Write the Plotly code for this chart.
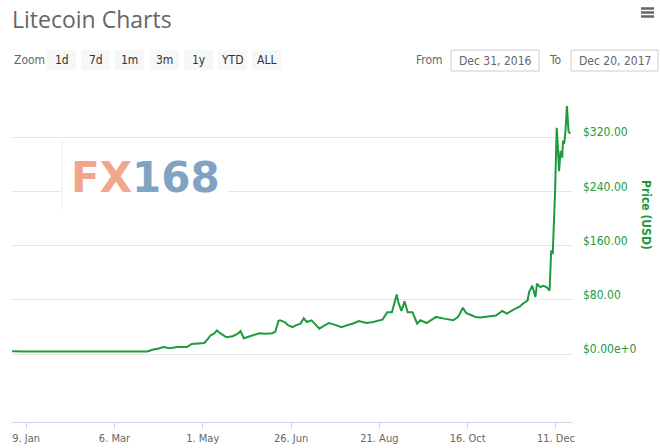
import plotly.graph_objects as go

# ---------------- data ----------------
dates = [
    "2016-12-31", "2017-01-03", "2017-01-07", "2017-01-15", "2017-01-25", "2017-02-05",
    "2017-02-15", "2017-02-25", "2017-03-08", "2017-03-18", "2017-03-27", "2017-03-30",
    "2017-04-01", "2017-04-03", "2017-04-06", "2017-04-10", "2017-04-15", "2017-04-21",
    "2017-04-24", "2017-04-28", "2017-05-02", "2017-05-04", "2017-05-06", "2017-05-08",
    "2017-05-10", "2017-05-12", "2017-05-14", "2017-05-16", "2017-05-20", "2017-05-23",
    "2017-05-25", "2017-05-27", "2017-05-31", "2017-06-03", "2017-06-06", "2017-06-10",
    "2017-06-14", "2017-06-16", "2017-06-18", "2017-06-19", "2017-06-22", "2017-06-24",
    "2017-06-27", "2017-06-29", "2017-07-02", "2017-07-04", "2017-07-06", "2017-07-09",
    "2017-07-11", "2017-07-14", "2017-07-17", "2017-07-20", "2017-07-23", "2017-07-25",
    "2017-07-28", "2017-08-01", "2017-08-04", "2017-08-08", "2017-08-13", "2017-08-17",
    "2017-08-22", "2017-08-23", "2017-08-26", "2017-08-29", "2017-09-01", "2017-09-02",
    "2017-09-04", "2017-09-06", "2017-09-08", "2017-09-11", "2017-09-14", "2017-09-16",
    "2017-09-20", "2017-09-23", "2017-09-26", "2017-10-01", "2017-10-04", "2017-10-07",
    "2017-10-10", "2017-10-13", "2017-10-15", "2017-10-18", "2017-10-21", "2017-10-24",
    "2017-10-28", "2017-11-03", "2017-11-07", "2017-11-10", "2017-11-15", "2017-11-18",
    "2017-11-20", "2017-11-23", "2017-11-24", "2017-11-26", "2017-11-28", "2017-11-29",
    "2017-12-01", "2017-12-03", "2017-12-05", "2017-12-07", "2017-12-08", "2017-12-09",
    "2017-12-10 12:00", "2017-12-11 12:00", "2017-12-12 06:00", "2017-12-13", "2017-12-14",
    "2017-12-15", "2017-12-15 12:00", "2017-12-16 06:00", "2017-12-17", "2017-12-18",
    "2017-12-19", "2017-12-20",
]
prices = [
    4.33, 4.6, 4.0, 3.9, 3.9, 4.0,
    3.85, 3.8, 3.9, 4.0, 4.1, 6.5,
    7.2, 8.5, 10.7, 8.8, 10.7, 10.5,
    15, 15.5, 16.6, 22, 28, 30,
    35, 31, 28, 25, 26.5, 30,
    34, 23.5, 26.5, 29, 31, 30,
    31, 33, 49, 50, 47.5, 43,
    40, 42.6, 45, 53, 47.5, 50,
    45, 37.7, 42, 46, 44, 42.6,
    40, 43, 45, 49, 46, 47.5,
    50, 51, 62, 62, 88, 77,
    64, 78, 62, 62, 45, 50,
    46, 50, 55, 52.5, 51, 50,
    55, 68.6, 60.7, 58, 55, 54,
    55, 57, 63.7, 60, 67, 70,
    74.5, 79, 91.6, 101, 84, 104,
    99, 101, 99, 94, 153, 148,
    241, 334, 305, 270, 300,
    290, 315, 310, 327, 366,
    329, 325,
]

x_tick_dates = ["2017-01-09", "2017-03-06", "2017-05-01", "2017-06-26",
                "2017-08-21", "2017-10-16", "2017-12-11"]
x_tick_labels = ["9. Jan", "6. Mar", "1. May", "26. Jun", "21. Aug", "16. Oct", "11. Dec"]
y_tick_values = [0, 80, 160, 240, 320, 400]
y_tick_labels = ["$0.00e+0", "$80.00", "$160.00", "$240.00", "$320.00", ""]
zoom_buttons = ["1d", "7d", "1m", "3m", "1y", "YTD", "ALL"]
range_from = "Dec 31, 2016"
range_to = "Dec 20, 2017"

# ---------------- layout helpers ----------------
W, H = 660, 448
ML, MR, MT, MB = 12, 88, 83, 26
PW, PH = W - ML - MR, H - MT - MB


def px(x):
    return (x - ML) / PW


def py(y):
    return 1 - (y - MT) / PH


GREEN = "#1e9a3c"
GREY = "#666666"
FONT = "Liberation Sans Narrow, Arial Narrow, DejaVu Sans Condensed, sans-serif"

fig = go.Figure()
fig.add_trace(go.Scatter(
    x=dates, y=prices, mode="lines",
    line=dict(color=GREEN, width=2),
    hoverinfo="x+y", showlegend=False,
))

shapes = []
annotations = []

# title
annotations.append(dict(text="Litecoin Charts", x=px(10), y=py(1), xref="paper", yref="paper",
                        xanchor="left", yanchor="top", showarrow=False,
                        font=dict(family="Open Sans, sans-serif", size=23, color="#666666")))
# hamburger
for yy in (8.5, 12.5, 16.5):
    shapes.append(dict(type="line", xref="paper", yref="paper",
                       x0=px(641), x1=px(654), y0=py(yy), y1=py(yy),
                       line=dict(color="#666666", width=2.5)))

# zoom label & buttons
annotations.append(dict(text="Zoom", x=px(12), y=py(60), xref="paper", yref="paper",
                        xanchor="left", yanchor="middle", showarrow=False,
                        font=dict(family=FONT, size=12, color=GREY)))
btn_x0 = [47, 81, 115, 150, 184, 218, 252]
for label, bx in zip(zoom_buttons, btn_x0):
    shapes.append(dict(type="rect", xref="paper", yref="paper",
                       x0=px(bx), x1=px(bx + 29), y0=py(50), y1=py(70),
                       fillcolor="#f7f7f7", line=dict(width=0)))
    annotations.append(dict(text=label, x=px(bx + 14.5), y=py(60), xref="paper", yref="paper",
                            xanchor="center", yanchor="middle", showarrow=False,
                            font=dict(family=FONT, size=12, color="#333333")))

# from / to boxes
annotations.append(dict(text="From", x=px(445), y=py(60), xref="paper", yref="paper",
                        xanchor="right", yanchor="middle", showarrow=False,
                        font=dict(family=FONT, size=12, color=GREY)))
annotations.append(dict(text="To", x=px(564), y=py(60), xref="paper", yref="paper",
                        xanchor="right", yanchor="middle", showarrow=False,
                        font=dict(family=FONT, size=12, color=GREY)))
for (bx0, bx1, txt) in ((451, 539, range_from), (571, 658, range_to)):
    shapes.append(dict(type="rect", xref="paper", yref="paper",
                       x0=px(bx0), x1=px(bx1), y0=py(50), y1=py(71),
                       fillcolor="white", line=dict(color="#cccccc", width=1)))
    annotations.append(dict(text=txt, x=px((bx0 + bx1) / 2), y=py(60.5), xref="paper", yref="paper",
                            xanchor="center", yanchor="middle", showarrow=False,
                            font=dict(family=FONT, size=12, color=GREY)))

# watermark
shapes.append(dict(type="rect", xref="paper", yref="paper", layer="above",
                   x0=px(62), x1=px(228), y0=py(140), y1=py(211),
                   fillcolor="white", line=dict(width=0)))
shapes.append(dict(type="line", xref="paper", yref="paper", layer="above",
                   x0=px(62), x1=px(62), y0=py(140), y1=py(211),
                   line=dict(color="#eeeeee", width=1)))
annotations.append(dict(
    text="<b><span style='color:#f2a68b'>FX</span><span style='color:#80a3c3'>168</span></b>",
    x=px(145), y=py(177), xref="paper", yref="paper", xanchor="center", yanchor="middle",
    showarrow=False, font=dict(family="DejaVu Sans, sans-serif", size=42)))

# y-axis title
annotations.append(dict(text="<b>Price (USD)</b>", x=px(646), y=py(215), xref="paper", yref="paper",
                        xanchor="center", yanchor="middle", showarrow=False, textangle=90,
                        font=dict(family=FONT, size=12, color=GREEN)))

fig.update_layout(
    width=W, height=H,
    margin=dict(l=ML, r=MR, t=MT, b=MB, autoexpand=False),
    paper_bgcolor="white", plot_bgcolor="white",
    shapes=shapes, annotations=annotations,
    xaxis=dict(
        range=["2016-12-31", "2017-12-21 05:00"],
        tickvals=x_tick_dates, ticktext=x_tick_labels,
        showgrid=False, zeroline=False,
        showline=True, linecolor="#ccd6eb", linewidth=1,
        ticks="outside", ticklen=6, tickcolor="#ccd6eb",
        ticklabelstandoff=0,
        tickfont=dict(family=FONT, size=11, color=GREY),
        fixedrange=True,
    ),
    yaxis=dict(
        range=[-100, 400], side="right",
        tickvals=y_tick_values, ticktext=y_tick_labels,
        showgrid=True, gridcolor="#e6e6e6", gridwidth=1,
        zeroline=False, showline=False, ticks="",
        ticklabelstandoff=10, ticklabelshift=-5,
        tickfont=dict(family=FONT, size=12, color=GREEN),
        fixedrange=True,
    ),
)

fig.write_html("out.html", config={"displayModeBar": False},
               post_script="document.body.style.margin='0px';")
